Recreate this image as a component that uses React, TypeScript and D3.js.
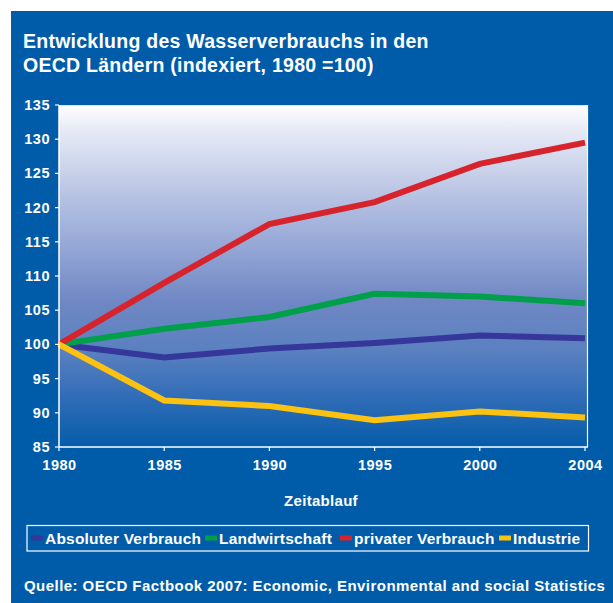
// Wasserverbrauch in den OECD-Ländern — index chart (1980 = 100).
// Plain SVG + D3 scales/shapes, drawn as JSX.

import * as d3 from "d3";

const years = ["1980", "1985", "1990", "1995", "2000", "2004"];

const absoluterVerbrauch = [100, 98.1, 99.4, 100.2, 101.3, 100.9];
const landwirtschaft = [100, 102.3, 104.0, 107.4, 107.0, 106.0];
const privaterVerbrauch = [100, 109.0, 117.6, 120.8, 126.4, 129.5];
const industrie = [100, 91.8, 91.0, 88.9, 90.2, 89.3];

const yTicks = [85, 90, 95, 100, 105, 110, 115, 120, 125, 130, 135];

const seriesNames = ["Absoluter Verbrauch", "Landwirtschaft", "privater Verbrauch", "Industrie"];
const seriesColors = ["#35379a", "#00a04b", "#d7232c", "#fcc211"];
const seriesValues = [absoluterVerbrauch, landwirtschaft, privaterVerbrauch, industrie];

const W = 613;
const H = 603;
const BG = "#005ca9";
const FONT = "'Liberation Sans', Arial, Helvetica, sans-serif";

// plot box
const PL = 59;
const PR = 588;
const PT = 105;
const PB = 447;

// legend layout (start x of each swatch)
const legendX = [31, 205, 340, 499];

// gradient stops, top → bottom
const gradStops: [number, string][] = [
  [0, "#ffffff"],
  [0.07, "#e8ebf6"],
  [0.28, "#b4c0e2"],
  [0.42, "#93a6d5"],
  [0.57, "#7088c4"],
  [0.72, "#5a80c0"],
  [0.86, "#2f6cb7"],
  [1, "#045ca9"],
];

export default function App() {
  const x = d3.scalePoint<string>().domain(years).range([PL, 585]);
  const y = d3.scaleLinear().domain([85, 135]).range([PB, PT]);

  const line = d3
    .line<number>()
    .x((_, i) => x(years[i]) as number)
    .y((d) => y(d));

  return (
    <svg
      width={W}
      height={H}
      style={{ position: "absolute", left: 0, top: 0, background: "#fff" }}
      fontFamily={FONT}
      fontWeight="bold"
      fill="#fff"
    >
      <defs>
        <linearGradient id="plotGrad" x1="0" y1="0" x2="0" y2="1">
          {gradStops.map(([o, c]) => (
            <stop key={o} offset={o} stopColor={c} />
          ))}
        </linearGradient>
      </defs>

      <rect x={11} y={11} width={W - 11} height={H - 11} fill={BG} />

      {/* title */}
      <text x={23} y={48} fontSize={19.5} letterSpacing={0.25}>
        Entwicklung des Wasserverbrauchs in den
      </text>
      <text x={23} y={72} fontSize={19.5} letterSpacing={0.25}>
        OECD Ländern (indexiert, 1980 =100)
      </text>

      {/* plot background */}
      <rect x={PL} y={PT} width={PR - PL} height={PB - PT} fill="url(#plotGrad)" />
      <line x1={PL} x2={PR} y1={PT + 0.5} y2={PT + 0.5} stroke="#dfe4f2" strokeWidth={1} />
      <line x1={PR - 0.5} x2={PR - 0.5} y1={PT} y2={PB} stroke="#fff" strokeWidth={1.2} />

      {/* series */}
      {seriesValues.map((vals, i) => (
        <path
          key={seriesNames[i]}
          d={line(vals) ?? ""}
          fill="none"
          stroke={seriesColors[i]}
          strokeWidth={6}
          strokeLinejoin="miter"
        />
      ))}

      {/* y axis */}
      <line x1={PL} x2={PL} y1={PT} y2={PB} stroke="#fff" strokeWidth={1.5} />
      {yTicks.map((t) => (
        <g key={t}>
          <line x1={PL - 4} x2={PL} y1={y(t)} y2={y(t)} stroke="#fff" strokeWidth={1.2} />
          <text x={50} y={y(t) + 5} textAnchor="end" fontSize={14.5} letterSpacing={0.5}>
            {t}
          </text>
        </g>
      ))}

      {/* x axis */}
      <line x1={PL} x2={PR} y1={PB} y2={PB} stroke="#fff" strokeWidth={1.5} />
      {years.map((yr) => (
        <g key={yr}>
          <line x1={x(yr)} x2={x(yr)} y1={PB} y2={PB + 4} stroke="#fff" strokeWidth={1.2} />
          <text x={(x(yr) as number) + 0.5} y={470} textAnchor="middle" fontSize={14.5} letterSpacing={0.5}>
            {yr}
          </text>
        </g>
      ))}
      <text x={321} y={506} textAnchor="middle" fontSize={15} letterSpacing={0.3}>
        Zeitablauf
      </text>

      {/* legend */}
      <rect x={27} y={525.5} width={561.5} height={25.5} fill="none" stroke="#fff" strokeWidth={1.2} />
      {seriesNames.map((name, i) => (
        <g key={name} transform={`translate(${legendX[i]},0)`}>
          <rect x={0} y={535.5} width={12} height={5} fill={seriesColors[i]} />
          <text x={14} y={544} fontSize={15.5} letterSpacing={0.2}>
            {name}
          </text>
        </g>
      ))}

      {/* source */}
      <text x={24} y={591} fontSize={15} letterSpacing={0.45}>
        Quelle: OECD Factbook 2007: Economic, Environmental and social Statistics
      </text>
    </svg>
  );
}
